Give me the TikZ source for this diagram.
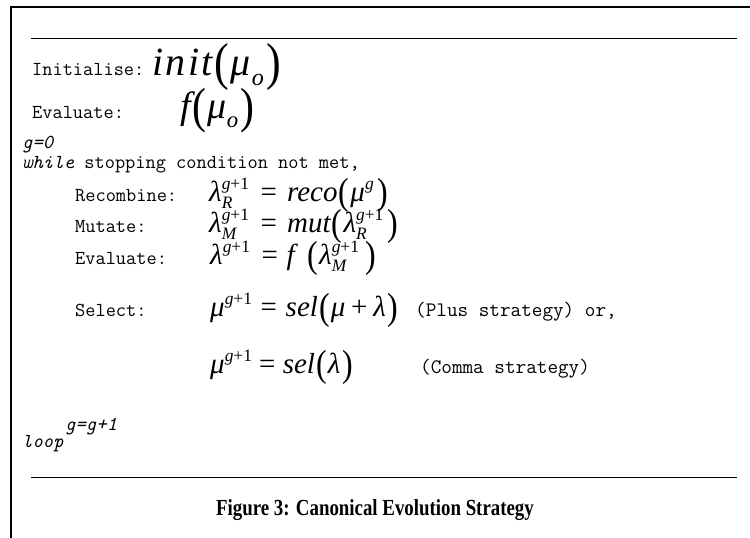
\documentclass[tikz,border=0pt]{standalone}
\usepackage{fontspec}
\usepackage{graphicx}
\setmainfont{Liberation Serif}
\newfontfamily\eqfamily{Liberation Serif}
\newfontfamily\capfamily[FakeStretch=0.82]{Liberation Serif}
% sizes of the pseudo-code text, the formulas and the caption
\newcommand\codefont{\fontsize{19.8}{23}\ttfamily}
\newcommand\notefont{\fontsize{20.6}{24}\ttfamily}
\newcommand\bigeqfont{\fontsize{40}{46}\eqfamily\itshape}
\newcommand\midfont{\fontsize{38}{44}\eqfamily\itshape}
\newcommand\eqfont{\fontsize{29}{33}\eqfamily\itshape}
\newcommand\capfont{\fontsize{23}{27}\capfamily\bfseries}
% formula pieces: sub/superscripts, stretched parentheses, spaced relation
\newcommand\Sb[1]{\raisebox{-0.25em}{\scalebox{0.6}{#1}}}
\newcommand\Sp[1]{\raisebox{0.38em}{\scalebox{0.6}{#1}}}
\newcommand\SbSp[2]{\rlap{\Sb{#1}}\Sp{#2}}
\newcommand\Lp{\kern0.04em\raisebox{-0.12em}{\scalebox{1.1}[1.3]{\upshape(}}\kern0.04em}
\newcommand\Rp{\kern0.06em\raisebox{-0.12em}{\scalebox{1.1}[1.3]{\upshape)}}}
\newcommand\eq{\kern0.3em{\upshape=}\kern0.3em}
\newcommand\gp{\textit{g}{\upshape+1}}
\newcommand\ls{\kern0.06em}
\begin{document}
\begin{tikzpicture}[x=1pt,y=-1pt,
  code/.style={anchor=base west,inner sep=0pt,font=\codefont},
  note/.style={anchor=base west,inner sep=0pt,font=\notefont},
  bigformula/.style={anchor=base west,inner sep=0pt,font=\bigeqfont},
  midformula/.style={anchor=base west,inner sep=0pt,font=\midfont},
  formula/.style={anchor=base west,inner sep=0pt,font=\eqfont},
  frame/.style={line width=2pt},
  rule/.style={line width=1pt}]
\useasboundingbox (0,0) rectangle (750,538);
% outer frame (top and left edge)
\coordinate (ftl) at (11,7);
\coordinate (ftr) at (750,7);
\coordinate (fbl) at (11,538);
\draw[frame] (ftr) -- (ftl) -- (fbl);
% horizontal rules
\coordinate (r1a) at (31,38);  \coordinate (r1b) at (737,38);
\coordinate (r2a) at (31,477); \coordinate (r2b) at (737,477);
\draw[rule] (r1a) -- (r1b);
\draw[rule] (r2a) -- (r2b);
% pseudo-code
\node[code] (init) at (32,75) {Initialise:};
\node[bigformula] (initf) at (152,75) {i\ls n\ls i\ls t\Lp μ\kern0.03em\Sb{o}\Rp};
\node[code] (eval0) at (32,118) {Evaluate:};
\node[midformula] (evalf0) at (180,118) {f\Lp μ\Sb{o}\Rp};
\node[code] (g0) at (22,148) {\itshape g=0};
\node[code] (while) at (22,168) {\textit{while} stopping condition not met,};
\node[code] (reco) at (75,201) {Recombine:};
\node[formula] (recof) at (209,201) {λ\SbSp{R}{\gp}\kern0.1em\eq\kern0.05em reco\Lp μ\Sp{g}\kern0.08em\Rp};
\node[code] (mut) at (75,232) {Mutate:};
\node[formula] (mutf) at (209,232) {λ\SbSp{M}{\gp}\kern0.1em\eq\kern0.05em mut\Lp λ\SbSp{R}{\gp}\kern0.08em\Rp};
\node[code] (eval) at (75,264) {Evaluate:};
\node[formula] (evalf) at (210,264) {λ\Sp{\gp}\kern0.1em\eq f\kern0.4em\Lp λ\SbSp{M}{\gp}\kern0.18em\Rp};
\node[code] (sel) at (75,316) {Select:};
\node[formula] (self) at (210,316) {μ\Sp{\gp}\eq sel\Lp μ\kern0.2em{\upshape+}\kern0.2emλ\Rp};
\node[note] (plus) at (415,316) {(Plus strategy) or,};
\node[formula] (selc) at (210,373) {μ\Sp{\gp}\kern-0.05em\eq\kern-0.05em sel\Lp λ\Rp};
\node[note] (comma) at (420,373) {(Comma strategy)};
\node[code] (ginc) at (65,430) {\itshape g=g+1};
\node[code] (loop) at (22,447) {\itshape loop};
% caption
\node[anchor=base,inner sep=0pt,font=\capfont] (cap) at (375,515)
  {Figure 3: Canonical Evolution Strategy};
\end{tikzpicture}
\end{document}
